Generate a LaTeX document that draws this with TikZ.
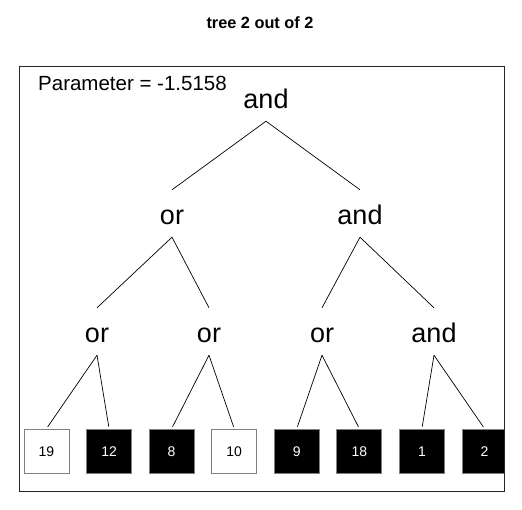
\documentclass[tikz,border=0pt]{standalone}
\usepackage{fontspec}
\setmainfont{Liberation Sans}
\begin{document}
\begin{tikzpicture}[x=1pt,y=-1pt,
        gate/.style={anchor=base,inner sep=0pt,text height=34pt,text depth=13pt,font=\fontsize{27}{31}\selectfont},
        leaf/.style={draw=gray,line width=0.8pt,minimum width=45pt,minimum height=44pt,inner sep=0pt,text height=10pt,text depth=0pt,font=\fontsize{14}{17}\selectfont},
        leafon/.style={leaf,fill=black,text=white},
        leafoff/.style={leaf,fill=white,text=black},
        wire/.style={line width=0.7pt,black}]
        \useasboundingbox (0,0) rectangle (522,509);
        
        \node[anchor=base,inner sep=0pt,font=\bfseries\fontsize{16.3}{19}\selectfont] (T) at (260,28) {tree 2 out of 2};
        \node[anchor=base west,inner sep=0pt,font=\fontsize{20.5}{24}\selectfont] (P) at (38,90) {Parameter = -1.5158};
        
        \node[gate] (G1) at (266,108) {and};
        \node[gate] (G2) at (172,224) {or};
        \node[gate] (G3) at (360,224) {and};
        \node[gate] (G4) at (97,342) {or};
        \node[gate] (G5) at (209,342) {or};
        \node[gate] (G6) at (322,342) {or};
        \node[gate] (G7) at (434,342) {and};
        
        % leaves, the last one is cut by the frame
        \begin{scope}
            \clip (19,66) rectangle (504,491);
            \foreach \i/\n/\s in {1/19/leafoff,2/12/leafon,3/8/leafon,4/10/leafoff,5/9/leafon,6/18/leafon,7/1/leafon,8/2/leafon}
                \node[\s] (L\i) at ({46.5+62.57*(\i-1)},451) {\n};
        \end{scope}
        \draw[line width=0.8pt,black!85] (19,66) rectangle (504,491);
        
        \draw[wire] (G1.south) -- (G2.north);
        \draw[wire] (G1.south) -- (G3.north);
        \draw[wire] (G2.south) -- (G4.north);
        \draw[wire] (G2.south) -- (G5.north);
        \draw[wire] (G3.south) -- (G6.north);
        \draw[wire] (G3.south) -- (G7.north);
        
        \draw[wire,shorten >=2pt] (G4.south) -- (L1.north);
        \draw[wire,shorten >=2pt] (G4.south) -- (L2.north);
        \draw[wire,shorten >=2pt] (G5.south) -- (L3.north);
        \draw[wire,shorten >=2pt] (G5.south) -- (L4.north);
        \draw[wire,shorten >=2pt] (G6.south) -- (L5.north);
        \draw[wire,shorten >=2pt] (G6.south) -- (L6.north);
        \draw[wire,shorten >=2pt] (G7.south) -- (L7.north);
        \draw[wire,shorten >=2pt] (G7.south) -- (L8.north);
\end{tikzpicture}
\end{document}
